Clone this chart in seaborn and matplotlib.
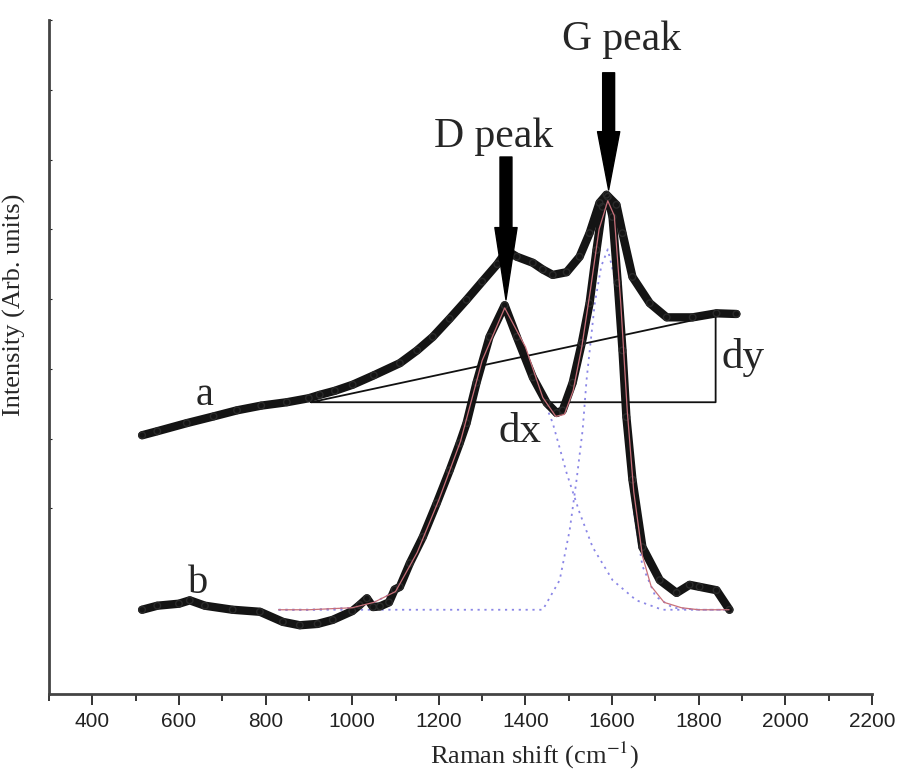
import matplotlib
matplotlib.use("Agg")
import matplotlib.pyplot as plt
import seaborn as sns
import pandas as pd
import numpy as np

# spectrum a (raw, with background slope)
a_x = [515, 550, 618, 680, 734, 790, 849, 900, 925, 960, 1001, 1050, 1110, 1150, 1186,
       1225, 1264, 1300, 1335, 1357, 1380, 1417, 1440, 1463, 1495, 1525, 1548, 1571,
       1587, 1610, 1624, 1647, 1687, 1726, 1786, 1841, 1887]
a_y = [38.4, 39.0, 40.2, 41.2, 42.1, 42.8, 43.3, 43.9, 44.4, 45.0, 45.9, 47.3, 49.1, 51.0, 53.0,
       55.7, 58.5, 61.2, 63.8, 65.8, 64.9, 64.0, 63.0, 62.2, 62.6, 64.9, 68.4, 72.9,
       74.1, 72.6, 68.4, 61.9, 58.0, 55.9, 55.9, 56.5, 56.4]

# spectrum b (background subtracted)
b_x = [515, 550, 600, 625, 660, 724, 787, 840, 879, 920, 955, 1000, 1017, 1034, 1048, 1064,
       1085, 1098, 1110, 1133, 1163, 1195, 1225, 1248, 1264, 1287, 1317, 1352, 1380, 1417,
       1449, 1472, 1486, 1509, 1530, 1548, 1564, 1578, 1590, 1601, 1613, 1624, 1633, 1647,
       1670, 1710, 1749, 1779, 1802, 1841, 1871]
b_y = [12.5, 13.1, 13.4, 13.9, 13.1, 12.5, 12.2, 10.7, 10.2, 10.4, 11.0, 12.3, 13.2, 14.2, 12.9, 13.0,
       13.6, 15.5, 15.9, 19.4, 23.3, 28.3, 33.2, 37.2, 40.2, 46.2, 53.0, 57.7, 53.0, 47.0,
       43.2, 41.7, 42.1, 46.2, 52.1, 58.0, 65.9, 72.3, 73.8, 70.8, 61.0, 51.0, 41.1, 31.8,
       21.8, 16.9, 15.0, 16.2, 15.9, 15.4, 12.5]

# cumulative fit and the two components
fit_x = [830, 900, 1000, 1050, 1100, 1150, 1200, 1250, 1300, 1352, 1400, 1440, 1470, 1490,
         1510, 1530, 1550, 1570, 1590, 1605, 1620, 1635, 1650, 1670, 1690, 1720, 1760, 1800, 1870]
fit_y = [12.5, 12.5, 12.8, 13.6, 15.2, 21.0, 28.8, 37.5, 49.5, 57.3, 51.5, 44.0, 41.2, 41.5,
         45.0, 51.5, 60.0, 69.0, 73.2, 71.0, 58.0, 42.0, 30.0, 20.5, 16.0, 13.6, 12.8, 12.5, 12.5]

d_x = [830, 900, 1000, 1050, 1100, 1150, 1200, 1250, 1300, 1352, 1400, 1440, 1463, 1495,
       1525, 1555, 1601, 1656, 1716, 1800, 1870]
d_y = [12.5, 12.5, 12.8, 13.6, 15.2, 21.0, 28.8, 37.5, 49.5, 57.0, 51.0, 44.0, 40.2, 32.8,
       26.9, 21.8, 16.9, 13.9, 12.5, 12.5, 12.5]

g_x = [830, 1000, 1200, 1440, 1479, 1502, 1518, 1532, 1541, 1560, 1575, 1590, 1605, 1620,
       1635, 1650, 1670, 1700, 1740, 1800, 1870]
g_y = [12.5, 12.5, 12.5, 12.5, 16.9, 24.3, 31.8, 39.2, 46.6, 58.0, 63.5, 66.0, 62.0, 50.0,
       37.0, 27.0, 19.0, 14.5, 12.8, 12.5, 12.5]

# slope triangle (dx, dy)
tri_x = [905, 1839, 1839, 905]
tri_y = [43.3, 43.3, 56.2, 43.3]

x_ticks = [400, 600, 800, 1000, 1200, 1400, 1600, 1800, 2000, 2200]

sns.set_style("ticks")
plt.rcParams["mathtext.fontset"] = "stix"
serif = ["Liberation Serif", "DejaVu Serif"]

fig = plt.figure(figsize=(9.04, 7.78), dpi=100)
ax = fig.add_axes([0.0542, 0.108, 0.9104, 0.866])

dot = (0, (1.2, 2.6))
sns.lineplot(x=d_x, y=d_y, ax=ax, color="#8a86e6", lw=1.3, linestyle=dot, sort=False)
sns.lineplot(x=g_x, y=g_y, ax=ax, color="#8a86e6", lw=1.3, linestyle=dot, sort=False)

for xs, ys in [(a_x, a_y), (b_x, b_y)]:
    sns.lineplot(x=xs, y=ys, ax=ax, color="#141414", lw=6, sort=False)
    sns.scatterplot(x=xs, y=ys, ax=ax, s=22, marker="o", facecolor="none",
                    edgecolor="#2a2a2a", linewidth=1.0, zorder=3)

sns.lineplot(x=fit_x, y=fit_y, ax=ax, color="#c8707a", lw=0.9, sort=False, zorder=4)

ax.plot(tri_x, tri_y, color="#111111", lw=1.3)

# arrows marking the peaks
arrow = dict(arrowstyle="simple,head_length=52,head_width=16,tail_width=8.6",
             mutation_scale=1, color="black", shrinkA=0, shrinkB=0)
ax.annotate("", xy=(1355, 58.5), xytext=(1355, 79.7), arrowprops=arrow)
arrow_g = dict(arrow, arrowstyle="simple,head_length=42,head_width=16,tail_width=8.6")
ax.annotate("", xy=(1592, 74.8), xytext=(1592, 92.2), arrowprops=arrow_g)

ax.text(1327, 81.2, "D peak", fontsize=30, family=serif, ha="center", va="baseline")
ax.text(1622, 95.6, "G peak", fontsize=30, family=serif, ha="center", va="baseline")
ax.text(660, 42.9, "a", fontsize=29, family=serif, ha="center", va="baseline")
ax.text(644, 15.0, "b", fontsize=29, family=serif, ha="center", va="baseline")
ax.text(1387, 37.4, "dx", fontsize=31, family=serif, ha="center", va="baseline")
ax.text(1853, 48.4, "dy", fontsize=31, family=serif, ha="left", va="baseline")

ax.set_xlim(300, 2200)
ax.set_ylim(0, 100)
ax.set_xticks(x_ticks)
ax.set_xticks(np.arange(300, 2200, 200), minor=True)
ax.set_yticks(np.arange(100, 20, -10.35))
ax.set_yticklabels([])
ax.tick_params(axis="x", which="major", length=8, width=1.3, pad=5, labelsize=15, colors="#222222")
ax.tick_params(axis="x", which="minor", length=5, width=1.3)
ax.tick_params(axis="y", which="major", length=2, width=0.8, direction="in")
for lbl in ax.get_xticklabels():
    lbl.set_family(["Liberation Sans", "DejaVu Sans"])

sns.despine(ax=ax)
for sp in ["left", "bottom"]:
    ax.spines[sp].set_linewidth(2.0)
    ax.spines[sp].set_color("#444444")

ax.set_xlabel("Raman shift (cm$^{-1}$)", fontsize=19, family=serif)
ax.set_ylabel("Intensity (Arb. units)", fontsize=19, family=serif)
ax.xaxis.set_label_coords(0.59, -0.068)
ax.yaxis.set_label_coords(-0.028, 0.577)

fig.savefig("out.png", dpi=100)
